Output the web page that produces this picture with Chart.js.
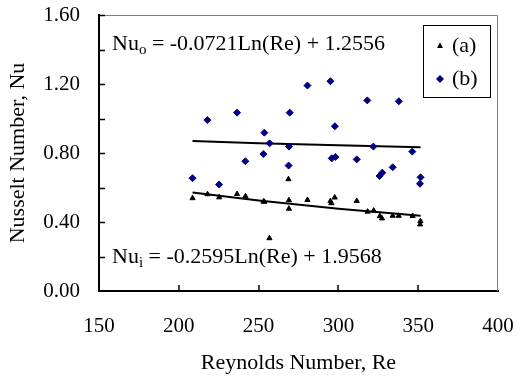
<!DOCTYPE html>
<html>
<head>
<meta charset="utf-8">
<script src="https://cdn.jsdelivr.net/npm/chart.js@4.4.1/dist/chart.umd.min.js"></script>
<style>
  html, body { margin: 0; padding: 0; background: #fff; }
  canvas { display: block; }
</style>
</head>
<body>
<canvas id="chart" width="517" height="376"></canvas>
<script>
// Reynolds number / Nusselt number readings, series (a)
const reA = [208.6, 218.0, 225.3, 236.5, 241.8, 253.1, 253.6, 256.8, 268.7, 269.0, 269.0,
  280.6, 295.0, 295.6, 297.7, 311.5, 318.3, 322.1, 326.0, 327.3, 334.0, 337.8, 346.5, 351.4, 351.2];
const nuA = [0.538, 0.561, 0.543, 0.562, 0.549, 0.519, 0.517, 0.306, 0.648, 0.526, 0.477,
  0.528, 0.521, 0.509, 0.542, 0.522, 0.460, 0.466, 0.434, 0.421, 0.436, 0.436, 0.435, 0.405, 0.386];

// series (b)
const reB = [208.6, 217.9, 225.2, 236.5, 241.7, 253.0, 253.6, 256.9, 268.8, 269.0, 269.5,
  280.6, 295.0, 295.8, 298.1, 297.8, 311.5, 318.1, 321.9, 325.8, 327.5, 334.0, 337.9, 346.3, 351.5, 351.1];
const nuB = [0.654, 0.991, 0.617, 1.034, 0.752, 0.794, 0.918, 0.856, 0.727, 0.837, 1.034,
  1.191, 1.216, 0.769, 0.777, 0.955, 0.763, 1.105, 0.837, 0.667, 0.686, 0.717, 1.100, 0.808, 0.659, 0.622];

// trend lines
const trendRe = [208.6, 250, 300, 351.5];
const trendO = [0.870, 0.857, 0.845, 0.833];
const trendI = [0.571, 0.524, 0.477, 0.436];

const seriesNames = ['(a)', '(b)'];
const eqOuter = ['Nu', 'o', ' = -0.0721Ln(Re) + 1.2556'];
const eqInner = ['Nu', 'i', ' = -0.2595Ln(Re) + 1.9568'];

const FONT = 'Liberation Serif';
const pts = (xs, ys) => xs.map((v, i) => ({ x: v, y: ys[i] }));

// inside tick marks, grey frame, equations and boxed legend
const decor = {
  id: 'decor',
  afterDraw(chart) {
    const { ctx, chartArea: a, scales: { x, y } } = chart;
    ctx.save();
    ctx.strokeStyle = '#808080';
    ctx.lineWidth = 1;
    ctx.beginPath();
    ctx.moveTo(a.left, a.top + 0.5);
    ctx.lineTo(a.right - 0.5, a.top + 0.5);
    ctx.lineTo(a.right - 0.5, a.bottom);
    ctx.stroke();

    ctx.strokeStyle = '#000';
    ctx.lineWidth = 1.5;
    ctx.beginPath();
    y.ticks.forEach(t => {
      if (t.value <= y.min) return;
      const py = Math.round(y.getPixelForValue(t.value)) + 0.5;
      ctx.moveTo(a.left, py);
      ctx.lineTo(a.left + 6, py);
    });
    x.ticks.forEach(t => {
      if (t.value <= x.min || t.value >= x.max) return;
      const px = Math.round(x.getPixelForValue(t.value));
      ctx.moveTo(px, a.bottom);
      ctx.lineTo(px, a.bottom - 6);
    });
    ctx.stroke();

    // equations
    ctx.fillStyle = '#000';
    ctx.textBaseline = 'alphabetic';
    const drawEq = (parts, px, py) => {
      ctx.font = '22px "' + FONT + '"';
      ctx.fillText(parts[0], px, py);
      px += ctx.measureText(parts[0]).width;
      ctx.font = '15px "' + FONT + '"';
      ctx.fillText(parts[1], px, py + 4);
      px += ctx.measureText(parts[1]).width;
      ctx.font = '22px "' + FONT + '"';
      ctx.fillText(parts[2], px, py);
    };
    drawEq(eqOuter, a.left + 13, a.top + 35);
    drawEq(eqInner, a.left + 13, a.top + 248);

    // legend
    const lx = a.right - 75, ly = a.top + 10, lw = 67, lh = 72;
    ctx.lineWidth = 1;
    ctx.strokeStyle = '#000';
    ctx.strokeRect(lx + 0.5, ly + 0.5, lw, lh);
    const marks = chart.data.datasets.filter(d => d.inLegend);
    marks.forEach((d, i) => {
      const cy = ly + 21 + i * 33;
      const cx = lx + 17;
      ctx.fillStyle = d.backgroundColor;
      ctx.beginPath();
      if (d.pointStyle === 'triangle') {
        ctx.moveTo(cx, cy - 3.5);
        ctx.lineTo(cx + 3, cy + 2);
        ctx.lineTo(cx - 3, cy + 2);
      } else {
        ctx.moveTo(cx, cy - 4);
        ctx.lineTo(cx + 4, cy);
        ctx.lineTo(cx, cy + 4);
        ctx.lineTo(cx - 4, cy);
      }
      ctx.closePath();
      ctx.fill();
      ctx.fillStyle = '#000';
      ctx.font = '22px "' + FONT + '"';
      ctx.textBaseline = 'middle';
      ctx.fillText(d.label, cx + 12, cy);
    });
    ctx.restore();
  }
};

new Chart(document.getElementById('chart'), {
  type: 'scatter',
  data: {
    datasets: [
      {
        label: seriesNames[0], inLegend: true,
        data: pts(reA, nuA),
        pointStyle: 'triangle', pointRadius: 3, pointBorderWidth: 1,
        backgroundColor: '#000', borderColor: '#000'
      },
      {
        label: seriesNames[1], inLegend: true,
        data: pts(reB, nuB),
        pointStyle: 'rectRot', pointRadius: 3.5, pointBorderWidth: 1,
        backgroundColor: '#000080', borderColor: '#000080'
      },
      {
        label: 'Nuo trend', data: pts(trendRe, trendO),
        showLine: true, pointRadius: 0, borderColor: '#000', borderWidth: 2, tension: 0
      },
      {
        label: 'Nui trend', data: pts(trendRe, trendI),
        showLine: true, pointRadius: 0, borderColor: '#000', borderWidth: 2, tension: 0
      }
    ]
  },
  options: {
    responsive: false,
    animation: false,
    layout: { padding: { top: 15, right: 19, left: 0, bottom: 0 } },
    plugins: {
      legend: { display: false },
      tooltip: { enabled: false }
    },
    scales: {
      x: {
        type: 'linear',
        min: 150, max: 400,
        afterFit: (s) => { s.height = 85; s.paddingLeft = 0; s.paddingRight = 0; },
        ticks: { stepSize: 50, padding: 23, color: '#000', font: { family: FONT, size: 21 } },
        grid: { display: false, drawTicks: false },
        border: { display: true, color: '#000', width: 2 },
        title: {
          display: true, text: 'Reynolds Number, Re', color: '#000',
          font: { family: FONT, size: 22, lineHeight: 1 },
          padding: { top: 0, bottom: 2 }
        }
      },
      y: {
        min: 0, max: 1.6,
        afterFit: (s) => { s.width = 99; s.paddingTop = 0; s.paddingBottom = 0; },
        ticks: {
          stepSize: 0.1, padding: 19, color: '#000',
          font: { family: FONT, size: 21 },
          callback: (v) => {
            const q = v / 0.4;
            return Math.abs(q - Math.round(q)) < 1e-6 ? v.toFixed(2) : '';
          }
        },
        grid: { display: false, drawTicks: false },
        border: { display: true, color: '#000', width: 2 },
        title: {
          display: true, text: 'Nusselt Number, Nu', color: '#000',
          font: { family: FONT, size: 22, lineHeight: 1.2 },
          padding: { top: 5, bottom: 0 }
        }
      }
    }
  },
  plugins: [decor]
});
</script>
</body>
</html>
